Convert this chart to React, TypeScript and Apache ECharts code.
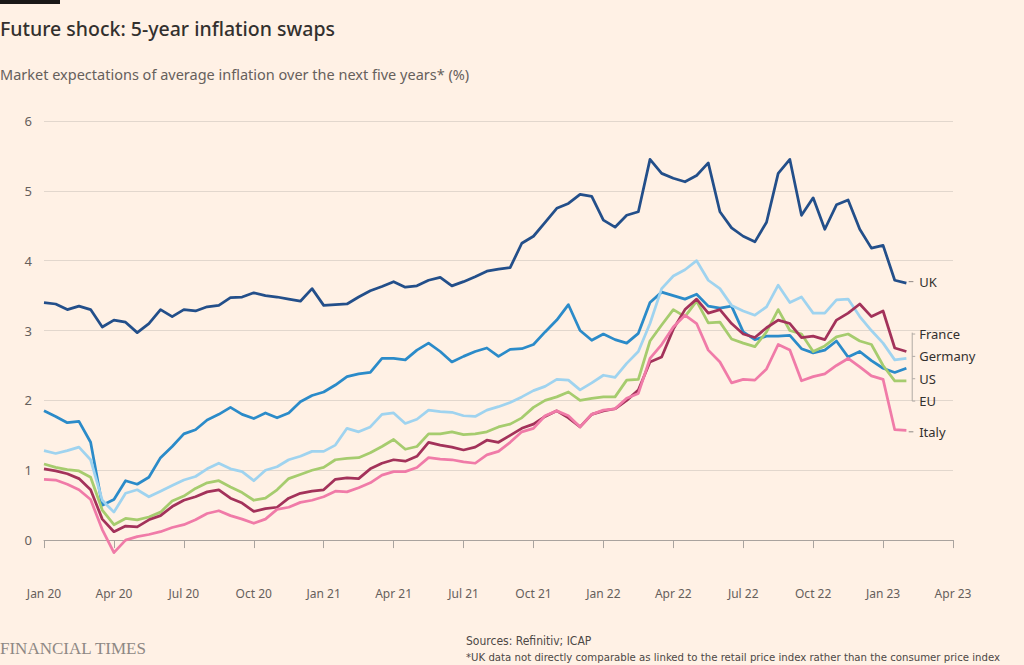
import React, { useEffect, useRef } from 'react';
import * as echarts from 'echarts';

// months since Jan 2020
const monthOffsets = [
  0, 0.5, 1, 1.5, 2, 2.5, 3, 3.5, 4, 4.5, 5, 5.5, 6, 6.5, 7, 7.5, 8, 8.5, 9, 9.5,
  10, 10.5, 11, 11.5, 12, 12.5, 13, 13.5, 14, 14.5, 15, 15.5, 16, 16.5, 17, 17.5, 18, 18.5, 19, 19.5,
  20, 20.5, 21, 21.5, 22, 22.5, 23, 23.5, 24, 24.5, 25, 25.5, 26, 26.5, 27, 27.5, 28, 28.5, 29, 29.5,
  30, 30.5, 31, 31.5, 32, 32.5, 33, 33.5, 34, 34.5, 35, 35.5, 36, 36.5, 37,
];

const xTickLabels = [
  'Jan 20', 'Apr 20', 'Jul 20', 'Oct 20', 'Jan 21', 'Apr 21', 'Jul 21',
  'Oct 21', 'Jan 22', 'Apr 22', 'Jul 22', 'Oct 22', 'Jan 23', 'Apr 23',
];

const ukValues = [
  3.40, 3.38, 3.30, 3.35, 3.30, 3.05, 3.15, 3.12, 2.97, 3.10, 3.30, 3.20, 3.30, 3.28, 3.34, 3.36, 3.47, 3.48, 3.54, 3.50,
  3.48, 3.45, 3.42, 3.60, 3.36, 3.37, 3.38, 3.48, 3.57, 3.63, 3.70, 3.62, 3.64, 3.72, 3.76, 3.64, 3.70, 3.77, 3.85, 3.88,
  3.90, 4.25, 4.35, 4.55, 4.75, 4.82, 4.95, 4.92, 4.58, 4.48, 4.65, 4.70, 5.45, 5.25, 5.18, 5.13, 5.22, 5.40, 4.70, 4.47,
  4.35, 4.27, 4.55, 5.25, 5.45, 4.65, 4.90, 4.45, 4.80, 4.87, 4.45, 4.18, 4.22, 3.72, 3.68,
];

const franceValues = [
  1.02, 0.99, 0.95, 0.88, 0.72, 0.30, 0.12, 0.20, 0.19, 0.29, 0.35, 0.48, 0.57, 0.62, 0.69, 0.72, 0.60, 0.53, 0.41, 0.45,
  0.47, 0.60, 0.67, 0.70, 0.72, 0.87, 0.89, 0.88, 1.02, 1.10, 1.15, 1.13, 1.20, 1.40, 1.36, 1.33, 1.29, 1.33, 1.43, 1.40,
  1.50, 1.60, 1.66, 1.77, 1.85, 1.75, 1.62, 1.80, 1.85, 1.88, 2.00, 2.15, 2.55, 2.62, 3.02, 3.30, 3.45, 3.25, 3.30, 3.10,
  2.95, 2.90, 3.04, 3.15, 3.10, 2.90, 2.92, 2.87, 3.15, 3.25, 3.38, 3.20, 3.28, 2.75, 2.70,
];

const germanyValues = [
  1.28, 1.24, 1.28, 1.33, 1.15, 0.57, 0.40, 0.67, 0.72, 0.62, 0.70, 0.78, 0.86, 0.91, 1.02, 1.10, 1.02, 0.98, 0.85, 1.00,
  1.05, 1.15, 1.20, 1.27, 1.27, 1.36, 1.60, 1.55, 1.62, 1.80, 1.82, 1.67, 1.73, 1.86, 1.84, 1.83, 1.78, 1.77, 1.86, 1.91,
  1.97, 2.05, 2.14, 2.20, 2.30, 2.29, 2.15, 2.25, 2.36, 2.33, 2.53, 2.70, 3.10, 3.60, 3.78, 3.87, 4.00, 3.72, 3.60, 3.36,
  3.28, 3.22, 3.34, 3.65, 3.40, 3.48, 3.25, 3.25, 3.44, 3.45, 3.20, 3.00, 2.82, 2.58, 2.60,
];

const usValues = [
  1.85, 1.77, 1.68, 1.70, 1.40, 0.50, 0.58, 0.85, 0.80, 0.90, 1.18, 1.34, 1.52, 1.58, 1.72, 1.80, 1.90, 1.80, 1.74, 1.82,
  1.75, 1.82, 1.98, 2.07, 2.12, 2.22, 2.34, 2.38, 2.40, 2.60, 2.60, 2.58, 2.72, 2.82, 2.70, 2.55, 2.63, 2.70, 2.75, 2.63,
  2.73, 2.74, 2.80, 2.98, 3.15, 3.37, 3.00, 2.86, 2.95, 2.87, 2.82, 2.96, 3.40, 3.55, 3.50, 3.45, 3.52, 3.35, 3.32, 3.35,
  2.98, 2.87, 2.92, 2.92, 2.93, 2.74, 2.68, 2.72, 2.85, 2.62, 2.70, 2.57, 2.46, 2.40, 2.46,
];

const euValues = [
  1.09, 1.04, 1.01, 0.99, 0.90, 0.43, 0.22, 0.31, 0.29, 0.33, 0.40, 0.56, 0.63, 0.74, 0.82, 0.85, 0.76, 0.68, 0.57, 0.60,
  0.72, 0.88, 0.94, 1.00, 1.04, 1.15, 1.17, 1.18, 1.25, 1.34, 1.44, 1.30, 1.34, 1.52, 1.52, 1.55, 1.51, 1.52, 1.55, 1.62,
  1.66, 1.75, 1.90, 2.00, 2.05, 2.12, 2.00, 2.03, 2.05, 2.05, 2.29, 2.30, 2.85, 3.08, 3.30, 3.20, 3.42, 3.11, 3.12, 2.88,
  2.82, 2.77, 2.98, 3.30, 3.00, 2.95, 2.70, 2.78, 2.91, 2.95, 2.85, 2.80, 2.50, 2.28, 2.28,
];

const italyValues = [
  0.87, 0.86, 0.80, 0.72, 0.58, 0.15, -0.18, 0.00, 0.05, 0.08, 0.12, 0.18, 0.22, 0.29, 0.38, 0.42, 0.35, 0.30, 0.24, 0.30,
  0.44, 0.47, 0.54, 0.57, 0.62, 0.70, 0.69, 0.75, 0.82, 0.93, 0.98, 0.98, 1.04, 1.18, 1.16, 1.15, 1.12, 1.10, 1.22, 1.27,
  1.40, 1.55, 1.60, 1.78, 1.85, 1.78, 1.62, 1.80, 1.86, 1.88, 2.03, 2.10, 2.60, 2.80, 3.05, 3.22, 3.10, 2.72, 2.55, 2.25,
  2.30, 2.29, 2.45, 2.80, 2.72, 2.28, 2.34, 2.38, 2.50, 2.60, 2.48, 2.35, 2.30, 1.58, 1.57,
];

const seriesNames = ['UK', 'US', 'Germany', 'EU', 'France', 'Italy'];
const seriesValues = [ukValues, usValues, germanyValues, euValues, franceValues, italyValues];
const seriesColors = ['#234f8a', '#2b8bc9', '#9fd3ef', '#a6cc6e', '#a3325a', '#f07ba8'];

// right-hand annotation labels (label text, y position in % units)
const endLabels = ['UK', 'France', 'Germany', 'US', 'EU', 'Italy'];
const endLabelValues = [3.70, 2.95, 2.63, 2.31, 1.99, 1.55];

const FONT = "'Noto Sans', 'Open Sans', sans-serif";
const NARROW = "'Liberation Sans Narrow', 'DejaVu Sans Condensed', Roboto, sans-serif";

export default function App() {
  const ref = useRef<HTMLDivElement>(null);

  useEffect(() => {
    document.body.style.margin = '0';
    document.body.style.background = '#fff1e5';
    if (!ref.current) return;
    const chart = echarts.init(ref.current, undefined, { renderer: 'svg' });

    const staticGraphics: any[] = [
      { type: 'rect', shape: { x: 0, y: 0, width: 60, height: 4 }, style: { fill: '#1a1817' } },
      {
        type: 'text', x: 0, y: 28,
        style: { text: 'Future shock: 5-year inflation swaps', font: `500 19.5px ${FONT}`, fill: '#33302e', verticalAlign: 'middle' },
      },
      {
        type: 'text', x: 0, y: 74,
        style: { text: 'Market expectations of average inflation over the next five years* (%)', font: `14.5px ${FONT}`, fill: '#66605c', verticalAlign: 'middle' },
      },
      {
        type: 'text', x: 0, y: 648,
        style: { text: 'FINANCIAL TIMES', font: "17px 'Liberation Serif', 'DejaVu Serif', serif", fill: '#8e8884', verticalAlign: 'middle' },
      },
      {
        type: 'text', x: 466, y: 641,
        style: { text: 'Sources: Refinitiv; ICAP', font: `12px ${NARROW}`, fill: '#4d4845', verticalAlign: 'middle' },
      },
      {
        type: 'text', x: 466, y: 657,
        style: { text: '*UK data not directly comparable as linked to the retail price index rather than the consumer price index', font: `11.3px ${NARROW}`, fill: '#4d4845', verticalAlign: 'middle' },
      },
    ];

    const option: any = {
      animation: false,
      backgroundColor: '#fff1e5',
      grid: { left: 44, right: 71, top: 121, bottom: 90, containLabel: false },
      xAxis: {
        type: 'value',
        min: 0,
        max: 39,
        interval: 3,
        axisLine: { show: true, lineStyle: { color: '#a9a39e', width: 1 } },
        axisTick: { show: true, length: 8, inside: false, lineStyle: { color: '#a9a39e' } },
        splitLine: { show: false },
        axisLabel: {
          margin: 12,
          color: '#66605c',
          fontSize: 12,
          fontFamily: FONT,
          formatter: (v: number) => xTickLabels[Math.round(v / 3)] ?? '',
        },
      },
      yAxis: {
        type: 'value',
        min: -0.5,
        max: 6,
        minInterval: 1,
        maxInterval: 1,
        axisLine: { show: false },
        axisTick: { show: false },
        splitLine: { show: true, showMinLine: false, lineStyle: { color: '#e2d7cd', width: 1 } },
        axisLabel: {
          showMinLabel: false,
          margin: 12,
          color: '#66605c',
          fontSize: 13,
          fontFamily: FONT,
          formatter: (v: number) => (Number.isInteger(v) ? String(v) : ''),
        },
      },
      series: seriesNames.map((name, i) => ({
        name,
        type: 'line',
        data: monthOffsets.map((m, j) => [m, seriesValues[i][j]]),
        showSymbol: false,
        symbol: 'none',
        lineStyle: { color: seriesColors[i], width: 2.75, join: 'round' },
        itemStyle: { color: seriesColors[i] },
        z: 2 + i,
      })),
      graphic: staticGraphics,
    };

    chart.setOption(option);

    const labelMonth = 37.55;
    const dashFrom = 37.1;
    const dashTo = 37.3;
    const extra: any[] = [];
    endLabels.forEach((t, i) => {
      const [px, py] = chart.convertToPixel({ gridIndex: 0 }, [labelMonth, endLabelValues[i]]) as number[];
      extra.push({
        type: 'text', x: px, y: py, z: 20,
        style: { text: t, font: `13px ${FONT}`, fill: '#33302e', verticalAlign: 'middle' },
      });
    });
    // leader dashes for UK and Italy
    [0, 5].forEach((i) => {
      const [x1, y1] = chart.convertToPixel({ gridIndex: 0 }, [dashFrom, endLabelValues[i]]) as number[];
      const [x2] = chart.convertToPixel({ gridIndex: 0 }, [dashTo, endLabelValues[i]]) as number[];
      extra.push({ type: 'line', z: 20, shape: { x1, y1, x2, y2: y1 }, style: { stroke: '#8e8884', lineWidth: 1 } });
    });
    // bracket for France / Germany / US / EU
    const [bx, byTop] = chart.convertToPixel({ gridIndex: 0 }, [37.25, endLabelValues[1] + 0.02]) as number[];
    const [, byBot] = chart.convertToPixel({ gridIndex: 0 }, [37.25, endLabelValues[4]]) as number[];
    extra.push({ type: 'line', z: 20, shape: { x1: bx, y1: byTop, x2: bx, y2: byBot }, style: { stroke: '#b0aaa5', lineWidth: 1 } });
    [1, 2, 3, 4].forEach((i) => {
      const [, ty] = chart.convertToPixel({ gridIndex: 0 }, [37.25, endLabelValues[i]]) as number[];
      extra.push({ type: 'line', z: 20, shape: { x1: bx, y1: ty, x2: bx + 3, y2: ty }, style: { stroke: '#b0aaa5', lineWidth: 1 } });
    });

    chart.setOption({ graphic: [...staticGraphics, ...extra] });

    return () => chart.dispose();
  }, []);

  return <div ref={ref} style={{ width: 1024, height: 665, background: '#fff1e5' }} />;
}
